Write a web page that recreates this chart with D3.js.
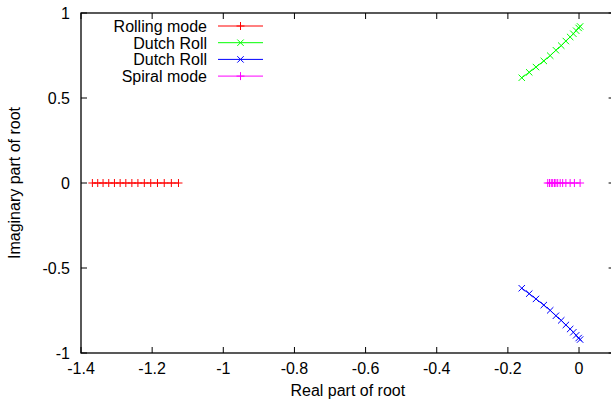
<!DOCTYPE html>
<html>
<head>
<meta charset="utf-8">
<script src="https://cdn.jsdelivr.net/npm/d3@7"></script>
<style>
  body { margin: 0; background: #fff; }
  text { font-family: "Liberation Sans", Arial, sans-serif; font-size: 16px; fill: #000; }
</style>
</head>
<body>
<svg id="chart" width="611" height="403"></svg>
<script>
// roots: [real, imag]
const rollingMode = [
  [-1.368, 0], [-1.353, 0], [-1.338, 0], [-1.322, 0], [-1.306, 0],
  [-1.290, 0], [-1.274, 0], [-1.257, 0], [-1.240, 0], [-1.222, 0],
  [-1.204, 0], [-1.185, 0], [-1.166, 0], [-1.146, 0], [-1.126, 0]
];
const dutchRollUp = [
  [-0.161, 0.619], [-0.140, 0.651], [-0.121, 0.682], [-0.099, 0.718],
  [-0.081, 0.749], [-0.065, 0.781], [-0.050, 0.808], [-0.037, 0.835],
  [-0.025, 0.859], [-0.016, 0.878], [-0.008, 0.896], [-0.001, 0.912],
  [0.003, 0.921]
];
const dutchRollDown = [
  [-0.161, -0.619], [-0.140, -0.651], [-0.121, -0.682], [-0.099, -0.718],
  [-0.081, -0.749], [-0.065, -0.781], [-0.050, -0.808], [-0.037, -0.835],
  [-0.025, -0.859], [-0.016, -0.878], [-0.008, -0.896], [-0.001, -0.912],
  [0.003, -0.921]
];
const spiralMode = [
  [-0.088, 0], [-0.083, 0], [-0.078, 0], [-0.074, 0], [-0.069, 0],
  [-0.065, 0], [-0.060, 0], [-0.053, 0], [-0.046, 0], [-0.037, 0],
  [-0.025, 0], [-0.013, 0], [0.003, 0]
];
const xTicks = [-1.4, -1.2, -1, -0.8, -0.6, -0.4, -0.2, 0];
const yTicks = [-1, -0.5, 0, 0.5, 1];

const series = [
  { name: "Rolling mode", data: rollingMode, color: "#ff0000", marker: "plus" },
  { name: "Dutch Roll", data: dutchRollUp, color: "#00ff00", marker: "cross" },
  { name: "Dutch Roll", data: dutchRollDown, color: "#0000ff", marker: "cross" },
  { name: "Spiral mode", data: spiralMode, color: "#ff00ff", marker: "plus" }
];

const svg = d3.select("#chart");
const plotLeft = 81, plotRight = 614.6, plotTop = 13, plotBottom = 353;

const x = d3.scaleLinear().domain([-1.4, 0.1]).range([plotLeft, plotRight]);
const y = d3.scaleLinear().domain([-1, 1]).range([plotBottom, plotTop]);
const tick = 6;

const axes = svg.append("g").attr("class", "axes");

// ticks on all four sides, pointing inward
xTicks.forEach((t) => {
  const px = x(t);
  axes.append("line").attr("x1", px).attr("x2", px).attr("y1", plotBottom).attr("y2", plotBottom - tick);
  axes.append("line").attr("x1", px).attr("x2", px).attr("y1", plotTop).attr("y2", plotTop + tick);
  axes.append("text").attr("x", px).attr("y", plotBottom + 21)
    .attr("text-anchor", "middle").text(t);
});
yTicks.forEach((t) => {
  const py = y(t);
  axes.append("line").attr("x1", plotLeft).attr("x2", plotLeft + tick).attr("y1", py).attr("y2", py);
  axes.append("line").attr("x1", plotRight).attr("x2", plotRight - tick).attr("y1", py).attr("y2", py);
  axes.append("text").attr("x", plotLeft - 11).attr("y", py + 6)
    .attr("text-anchor", "end").text(t);
});
axes.selectAll("line").attr("stroke", "#000").attr("stroke-width", 1);

axes.append("rect")
  .attr("x", plotLeft).attr("y", plotTop)
  .attr("width", plotRight - plotLeft).attr("height", plotBottom - plotTop)
  .attr("fill", "none").attr("stroke", "#000").attr("stroke-width", 1.3);

svg.append("text").attr("x", (plotLeft + plotRight) / 2).attr("y", 396)
  .attr("text-anchor", "middle").text("Real part of root");
svg.append("text")
  .attr("transform", `translate(20,${y(0)}) rotate(-90)`)
  .attr("text-anchor", "middle").text("Imaginary part of root");

function drawMarker(g, type, cx, cy, color) {
  const s = type === "plus" ? 4 : 3.2;
  const segs = type === "plus"
    ? [[-s, 0, s, 0], [0, -s, 0, s]]
    : [[-s, -s, s, s], [-s, s, s, -s]];
  segs.forEach((p) => {
    g.append("line")
      .attr("x1", cx + p[0]).attr("y1", cy + p[1])
      .attr("x2", cx + p[2]).attr("y2", cy + p[3])
      .attr("stroke", color).attr("stroke-width", 1);
  });
}

const line = d3.line().x((d) => x(d[0])).y((d) => y(d[1]));
const plot = svg.append("g").attr("class", "plot");

series.forEach((s) => {
  plot.append("path").attr("d", line(s.data))
    .attr("fill", "none").attr("stroke", s.color).attr("stroke-width", 1);
  const mg = plot.append("g");
  s.data.forEach((d) => drawMarker(mg, s.marker, x(d[0]), y(d[1]), s.color));
});

// legend
const legend = svg.append("g").attr("class", "legend");
series.forEach((s, i) => {
  const ly = 26 + i * 16.7;
  legend.append("text").attr("x", 207).attr("y", ly + 6)
    .attr("text-anchor", "end").text(s.name);
  legend.append("line").attr("x1", 218).attr("x2", 263).attr("y1", ly).attr("y2", ly)
    .attr("stroke", s.color).attr("stroke-width", 1);
  drawMarker(legend, s.marker, 240.5, ly, s.color);
});
</script>
</body>
</html>
